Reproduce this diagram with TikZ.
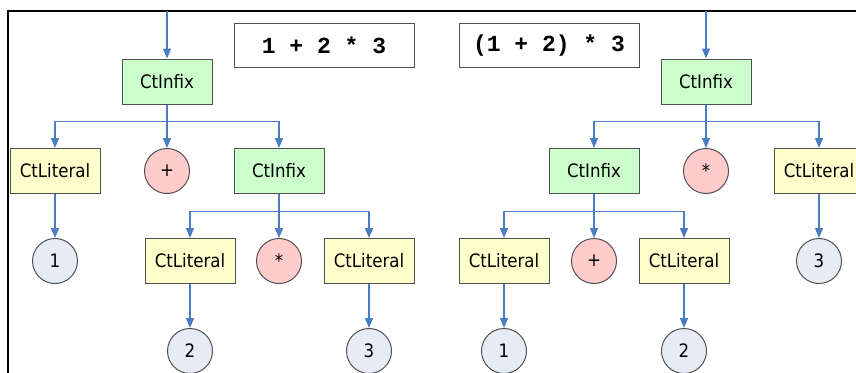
\documentclass[tikz,border=0pt]{standalone}
\usepackage{fontspec}
\setmainfont{DejaVu Sans Condensed}
\setmonofont{Liberation Mono}
\usetikzlibrary{arrows.meta}

\definecolor{infixfill}{HTML}{CCFFCC}
\definecolor{literalfill}{HTML}{FFFFCC}
\definecolor{opfill}{HTML}{FFCCCC}
\definecolor{valfill}{HTML}{E6ECF6}
\definecolor{linkblue}{HTML}{4A7CC4}
\definecolor{boxline}{HTML}{505050}

\begin{document}
\begin{tikzpicture}[x=1pt,y=-1pt,
  treebox/.style={draw=boxline, line width=1pt, minimum width=90pt,
    minimum height=45pt, inner sep=0pt, font=\fontsize{18.5}{20}\selectfont},
  infix/.style={treebox, fill=infixfill},
  literal/.style={treebox, fill=literalfill},
  op/.style={circle, draw=boxline, line width=1pt, minimum size=45pt,
    inner sep=0pt, fill=opfill, font=\fontsize{18.5}{20}\selectfont},
  val/.style={op, fill=valfill},
  exprbox/.style={draw=boxline, line width=1pt, minimum width=180pt,
    minimum height=44pt, inner sep=0pt,
    font=\ttfamily\bfseries\fontsize{23}{25}\selectfont},
  link/.style={draw=linkblue, line width=1.2pt,
    -{Triangle[length=10pt,width=8pt]}}
]
\useasboundingbox (0,0) rectangle (856,372);
\clip (0,0) rectangle (856,372);

% frame
\draw[line width=2.5pt] (8,420) -- (8,11) -- (900,11);

% expression captions
\node[exprbox] (exprA) at (324,45) {1 + 2 * 3\ };
\node[exprbox] (exprB) at (549,45.5) {(1 + 2) * 3};

% tree for 1 + 2 * 3
\coordinate (topA) at (167,11);
\node[infix]   (a1) at (167,81.5) {CtInfix};
\node[literal] (a2) at (55,171)   {CtLiteral};
\node[op]      (a3) at (167,171)  {+};
\node[infix]   (a4) at (279,171)  {CtInfix};
\node[val]     (a5) at (55,261)   {1};
\node[literal] (a6) at (190,261)  {CtLiteral};
\node[op]      (a7) at (279,261)  {*};
\node[literal] (a8) at (369,261)  {CtLiteral};
\node[val]     (a9) at (190,351)  {2};
\node[val]     (a10) at (369,351) {3};

\draw[link] (topA) -- (a1);
\draw[link] (a1.south) -- ++(0,17) -| (a2.north);
\draw[link] (a1.south) -- (a3.north);
\draw[link] (a1.south) -- ++(0,17) -| (a4.north);
\draw[link] (a2.south) -- (a5.north);
\draw[link] (a4.south) -- ++(0,17.5) -| (a6.north);
\draw[link] (a4.south) -- (a7.north);
\draw[link] (a4.south) -- ++(0,17.5) -| (a8.north);
\draw[link] (a6.south) -- (a9.north);
\draw[link] (a8.south) -- (a10.north);

% tree for (1 + 2) * 3
\coordinate (topB) at (706,11);
\node[infix]   (b1) at (706,81.5) {CtInfix};
\node[infix]   (b2) at (594,171)  {CtInfix};
\node[op]      (b3) at (706,171)  {*};
\node[literal] (b4) at (819,171)  {CtLiteral};
\node[literal] (b5) at (504,261)  {CtLiteral};
\node[op]      (b6) at (594,261)  {+};
\node[literal] (b7) at (684,261)  {CtLiteral};
\node[val]     (b8) at (819,261)  {3};
\node[val]     (b9) at (504,351)  {1};
\node[val]     (b10) at (684,351) {2};

\draw[link] (topB) -- (b1);
\draw[link] (b1.south) -- ++(0,17) -| (b2.north);
\draw[link] (b1.south) -- (b3.north);
\draw[link] (b1.south) -- ++(0,17) -| (b4.north);
\draw[link] (b2.south) -- ++(0,17.5) -| (b5.north);
\draw[link] (b2.south) -- (b6.north);
\draw[link] (b2.south) -- ++(0,17.5) -| (b7.north);
\draw[link] (b4.south) -- (b8.north);
\draw[link] (b5.south) -- (b9.north);
\draw[link] (b7.south) -- (b10.north);
\end{tikzpicture}
\end{document}
